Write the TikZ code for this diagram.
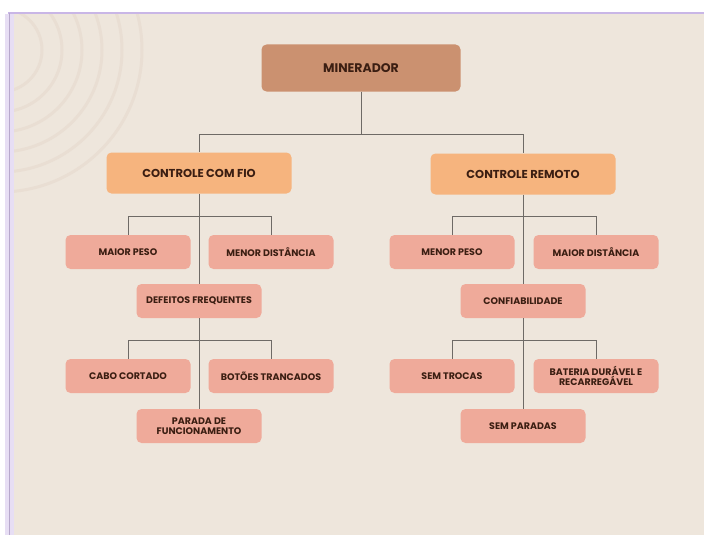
\documentclass[tikz,border=0pt]{standalone}
\usepackage{fontspec}
\setmainfont{Poppins}
\usetikzlibrary{positioning}
\definecolor{fundo}{HTML}{EEE6DC}
\definecolor{lilas}{HTML}{C9B6E6}
\definecolor{arcocor}{HTML}{E9DED3}
\definecolor{marrom}{HTML}{CB9170}
\definecolor{laranja}{HTML}{F6B47E}
\definecolor{rosa}{HTML}{EFAA9A}
\definecolor{texto}{HTML}{3B1E12}
\definecolor{linha}{HTML}{6E6A66}
\tikzset{
  caixa/.style={rounded corners=5pt, align=center, text=texto, font=\bfseries, inner sep=0pt},
  raiz/.style={caixa, fill=marrom, minimum width=199pt, minimum height=47pt, font=\bfseries\fontsize{12.5}{14}\selectfont},
  ramo/.style={caixa, fill=laranja, minimum width=185pt, minimum height=41pt, font=\bfseries\fontsize{11.5}{13}\selectfont},
  folha/.style={caixa, fill=rosa, minimum width=125pt, minimum height=34pt, font=\bfseries\fontsize{9.5}{10.5}\selectfont},
  liga/.style={draw=linha, line width=0.8pt}
}
\begin{document}
\begin{tikzpicture}[x=1pt,y=-1pt]
  \useasboundingbox (0,0) rectangle (704,535);
  % fundo e moldura
  \fill[white] (0,0) rectangle (704,535);
  \fill[fundo] (11,14) rectangle (704,535);
  \fill[lilas!45] (5,14) rectangle (14,535);
  \draw[lilas, line width=1.6pt] (8,13) -- (704,13);
  \draw[lilas!75!gray, line width=1pt] (9.5,13) -- (9.5,535);
  % arcos decorativos no canto
  \begin{scope}
    \clip (14,15) rectangle (300,300);
    \foreach \r in {42,62,82,102,122,142} {
      \draw[arcocor, line width=3pt] (0,50) circle (\r pt);
    }
  \end{scope}
  % topo
  \node[raiz] (minerador) at (361,68) {MINERADOR};
  % ramos
  \node[ramo] (fio) at (199,173) {CONTROLE COM FIO};
  \node[ramo] (remoto) at (523,174) {CONTROLE REMOTO};
  % lado esquerdo
  \node[folha] (maiorpeso) at (128,252) {MAIOR PESO};
  \node[folha] (menordist) at (271,252) {MENOR DISTÂNCIA};
  \node[folha] (defeitos) at (199,301) {DEFEITOS FREQUENTES};
  \node[folha] (cabo) at (128,376) {CABO CORTADO};
  \node[folha] (botoes) at (271,376) {BOTÕES TRANCADOS};
  \node[folha] (parada) at (199,426) {PARADA DE\\FUNCIONAMENTO};
  % lado direito
  \node[folha] (menorpeso) at (452,252) {MENOR PESO};
  \node[folha] (maiordist) at (596,252) {MAIOR DISTÂNCIA};
  \node[folha] (confiab) at (523,301) {CONFIABILIDADE};
  \node[folha] (semtrocas) at (452,376) {SEM TROCAS};
  \node[folha] (bateria) at (596,376) {BATERIA DURÁVEL E\\RECARREGÁVEL};
  \node[folha] (semparadas) at (523,426) {SEM PARADAS};
  % ligações
  \draw[liga] (minerador.south) -- ++(0,43) -| (fio.north);
  \draw[liga] (minerador.south) -- ++(0,43) -| (remoto.north);
  \foreach \a/\b/\c/\d/\e in {fio/defeitos/parada/maiorpeso/menordist,
                               remoto/confiab/semparadas/menorpeso/maiordist} {
    \draw[liga] (\a.south) -- (\b.north);
    \draw[liga] (\b.south) -- (\c.north);
    \draw[liga] (\d.north) -- ++(0,-18) -| (\e.north);
  }
  \draw[liga] (cabo.north) -- ++(0,-18) -| (botoes.north);
  \draw[liga] (semtrocas.north) -- ++(0,-18) -| (bateria.north);
\end{tikzpicture}
\end{document}
